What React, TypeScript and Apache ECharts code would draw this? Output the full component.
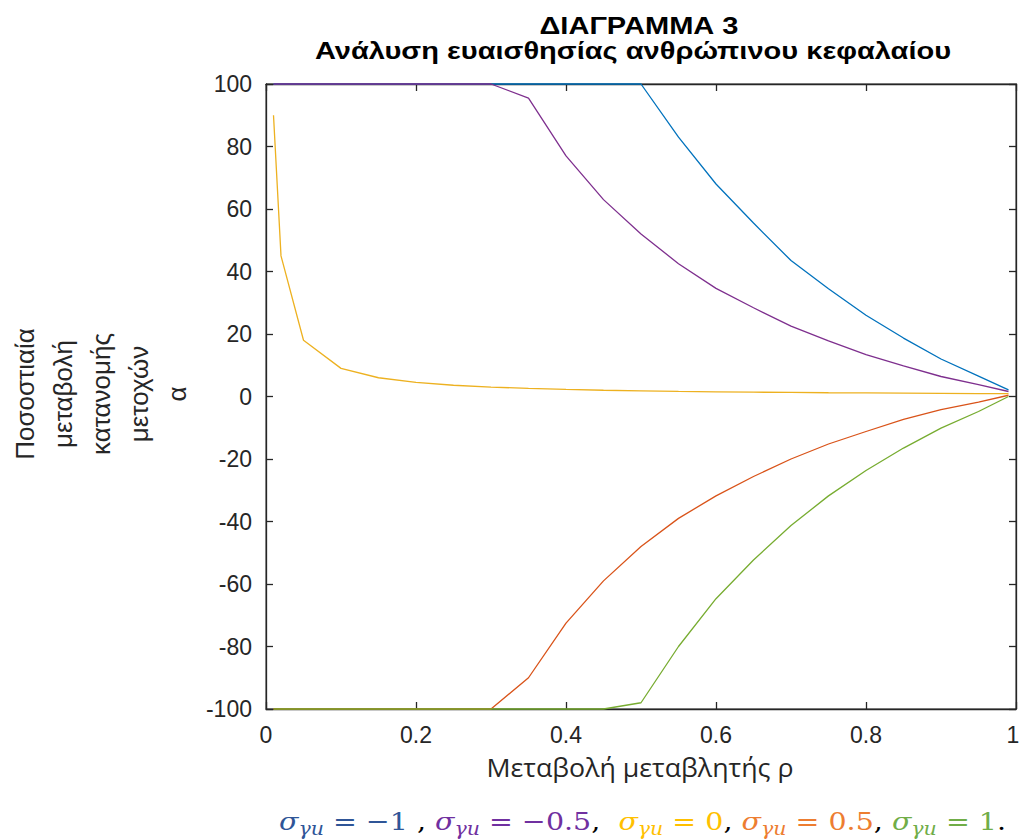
import React, { useEffect, useRef } from "react";
import * as echarts from "echarts";

const rho = [0.01, 0.02, 0.05, 0.1, 0.15, 0.2, 0.25, 0.3, 0.35, 0.4, 0.45, 0.5, 0.55, 0.6, 0.65, 0.7, 0.75, 0.8, 0.85, 0.9, 0.95, 0.99];
const sigmaMinus1 = [100, 100, 100, 100, 100, 100, 100, 100, 100, 100, 100, 100, 83, 68, 55.5, 43.5, 34.5, 26, 18.7, 12, 6.5, 2.1];
const sigmaMinus05 = [100, 100, 100, 100, 100, 100, 100, 100, 95.5, 77, 63, 52, 42.5, 34.6, 28.4, 22.5, 17.8, 13.4, 9.8, 6.4, 3.8, 1.6];
const sigma0 = [90, 45, 18, 9, 6, 4.5, 3.6, 3, 2.6, 2.25, 2, 1.8, 1.64, 1.5, 1.38, 1.29, 1.2, 1.13, 1.06, 1, 0.95, 0.91];
const sigma05 = [-100, -100, -100, -100, -100, -100, -100, -100, -90, -72.5, -59, -48, -39, -31.8, -25.6, -20, -15.2, -11.2, -7.3, -4.2, -1.8, 0.4];
const sigma1 = [-100, -100, -100, -100, -100, -100, -100, -100, -100, -100, -100, -98, -80, -64.7, -52.3, -41.3, -31.8, -23.7, -16.5, -10.1, -4.8, 0];

const titleLines = ["ΔΙΑΓΡΑΜΜΑ 3", "Ανάλυση ευαισθησίας ανθρώπινου κεφαλαίου"];
const xTitle = "Μεταβολή μεταβλητής ρ";
const yTitleLines = ["Ποσοστιαία", "μεταβολή", "κατανομής", "μετοχών", "α"];

const seriesDefs = [
  { name: "σγu = −1", data: sigmaMinus1, color: "#0072BD" },
  { name: "σγu = 0.5", data: sigma05, color: "#D95319" },
  { name: "σγu = 0", data: sigma0, color: "#EDB120" },
  { name: "σγu = −0.5", data: sigmaMinus05, color: "#7E2F8E" },
  { name: "σγu = 1", data: sigma1, color: "#77AC30" },
];

const legendParts = [
  { value: "−1", sep: " , ", color: "#2F5597" },
  { value: "−0.5", sep: ",  ", color: "#7030A0" },
  { value: "0", sep: ", ", color: "#FFC000" },
  { value: "0.5", sep: ", ", color: "#ED7D31" },
  { value: "1", sep: ".", color: "#70AD47" },
];

const AXIS = "#262626";
const SANS = "'Liberation Sans', Arial, sans-serif";
const SERIF = "'DejaVu Serif', serif";

function buildLegend(): any[] {
  const ctx = document.createElement("canvas").getContext("2d")!;
  const MAIN = 25;
  const SUB = 18;
  const tokens: { text: string; font: string; color: string; sub: boolean }[] = [];
  legendParts.forEach((p) => {
    tokens.push({ text: "σ", font: `italic ${MAIN}px ${SERIF}`, color: p.color, sub: false });
    tokens.push({ text: "γu", font: `italic ${SUB}px ${SERIF}`, color: p.color, sub: true });
    tokens.push({ text: " = " + p.value, font: `${MAIN}px ${SERIF}`, color: p.color, sub: false });
    tokens.push({ text: p.sep, font: `${MAIN}px ${SERIF}`, color: "#000", sub: false });
  });
  const widths = tokens.map((t) => {
    ctx.font = t.font;
    return ctx.measureText(t.text).width;
  });
  const total = widths.reduce((a, b) => a + b, 0);
  const left = 279;
  const right = 1006;
  const sx = (right - left) / total;
  let x = left;
  return tokens.map((t, i) => {
    const el = {
      type: "text",
      x,
      y: t.sub ? 829 : 821,
      scaleX: sx,
      style: { text: t.text, font: t.font, fill: t.color, align: "left", verticalAlign: "middle", textAlign: "left", textVerticalAlign: "middle" },
    };
    x += widths[i] * sx;
    return el;
  });
}

export default function App() {
  const ref = useRef<HTMLDivElement>(null);
  useEffect(() => {
    if (!ref.current) return;
    const prevHtml = document.documentElement.style.overflow;
    const prevBody = document.body.style.margin;
    document.documentElement.style.overflow = "hidden";
    document.body.style.margin = "0";
    const chart = echarts.init(ref.current, null, { renderer: "svg" });

    const axisCommon = {
      type: "value" as const,
      gridIndex: 0,
      show: true,
      axisLine: { show: true, onZero: false, lineStyle: { color: AXIS, width: 1.3 } },
      axisTick: { show: true, inside: true, length: 7, lineStyle: { color: AXIS, width: 1.3 } },
      splitLine: { show: false },
    };

    chart.setOption({
      animation: false,
      backgroundColor: "#ffffff",
      grid: {
        left: 266,
        top: 84,
        width: 750,
        height: 625,
        containLabel: false,
        outerBoundsMode: "none",
        show: true,
        borderColor: AXIS,
        borderWidth: 1,
        backgroundColor: "transparent",
      },
      xAxis: [
        {
          ...axisCommon,
          position: "bottom",
          min: 0,
          max: 1,
          interval: 0.2,
          axisLabel: {
            color: AXIS,
            fontSize: 23,
            fontFamily: SANS,
            margin: 14,
            formatter: (v: number) => (v === 1 ? "{e|1}" : String(Math.round(v * 10) / 10)),
            rich: { e: { color: AXIS, fontSize: 23, fontFamily: SANS, padding: [0, 6, 0, 0] } },
          },
        },
        {
          ...axisCommon,
          position: "top",
          min: 0,
          max: 1,
          interval: 0.2,
          axisLabel: { show: false },
        },
      ],
      yAxis: [
        {
          ...axisCommon,
          position: "left",
          min: -100,
          max: 100,
          interval: 20,
          axisLabel: { color: AXIS, fontSize: 23, fontFamily: SANS, margin: 14 },
        },
        {
          ...axisCommon,
          position: "right",
          min: -100,
          max: 100,
          interval: 20,
          axisLabel: { show: false },
        },
      ],
      series: [
        ...seriesDefs.map((s) => ({
          type: "line",
          name: s.name,
          xAxisIndex: 0,
          yAxisIndex: 0,
          data: rho.map((x, i) => [x, s.data[i]]),
          showSymbol: false,
          symbol: "none",
          clip: false,
          lineStyle: { color: s.color, width: 1.3 },
          itemStyle: { color: s.color },
        })),
        {
          type: "line",
          name: "frame",
          xAxisIndex: 1,
          yAxisIndex: 1,
          data: [],
          symbol: "none",
          silent: true,
        },
      ],
      graphic: [
        {
          type: "text",
          x: 639,
          y: 26,
          scaleX: 1.21,
          style: { text: titleLines[0], fill: "#000", font: `bold 24px ${SANS}`, align: "center", verticalAlign: "middle", textAlign: "center", textVerticalAlign: "middle" },
        },
        {
          type: "text",
          x: 633,
          y: 51,
          scaleX: 1.21,
          style: { text: titleLines[1], fill: "#000", font: `bold 24px ${SANS}`, align: "center", verticalAlign: "middle", textAlign: "center", textVerticalAlign: "middle" },
        },
        {
          type: "text",
          x: 640,
          y: 767,
          scaleX: 1.07,
          style: { text: xTitle, fill: AXIS, font: `25px 'Open Sans', sans-serif`, align: "center", verticalAlign: "middle", textAlign: "center", textVerticalAlign: "middle" },
        },
        {
          type: "text",
          x: 101,
          y: 394,
          rotation: Math.PI / 2,
          style: { text: yTitleLines.join("\n"), fill: AXIS, font: `26px ${SANS}`, lineHeight: 38, align: "center", verticalAlign: "middle", textAlign: "center", textVerticalAlign: "middle" },
        },
        ...buildLegend(),
      ],
    });
    return () => {
      chart.dispose();
      document.documentElement.style.overflow = prevHtml;
      document.body.style.margin = prevBody;
    };
  }, []);
  return <div ref={ref} style={{ position: "fixed", left: 0, top: 0, width: 1020, height: 839, background: "#fff" }} />;
}
